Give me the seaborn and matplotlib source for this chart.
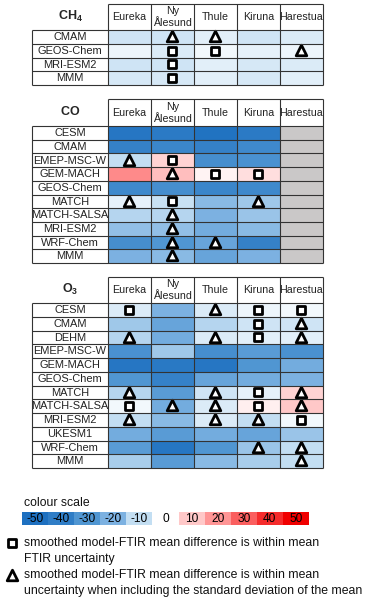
import numpy as np
import pandas as pd
import matplotlib
matplotlib.use("Agg")
import matplotlib.pyplot as plt
from matplotlib.colors import LinearSegmentedColormap
import seaborn as sns

# sites (columns) shared by all three panels
sites = ["Eureka", "Ny\nÅlesund", "Thule", "Kiruna", "Harestua"]

# CH4 mean differences (%) and markers: s = within FTIR uncertainty, t = within uncertainty incl. std
ch4_models = ["CMAM", "GEOS-Chem", "MRI-ESM2", "MMM"]
ch4_values = [[-8, -8, -5, -8, -6],
              [-3, -6, -2, -4, -3],
              [-8, -8, -5, -7, -6],
              [-7, -7, -5, -7, -5]]
ch4_marks = [["", "t", "t", "", ""],
             ["", "s", "s", "", "t"],
             ["", "s", "", "", ""],
             ["", "s", "", "", ""]]

co_models = ["CESM", "CMAM", "EMEP-MSC-W", "GEM-MACH", "GEOS-Chem", "MATCH",
             "MATCH-SALSA", "MRI-ESM2", "WRF-Chem", "MMM"]
co_values = [[-45, -42, -48, -42, np.nan],
             [-38, -36, -38, -35, np.nan],
             [-10, 8, -33, -32, np.nan],
             [22, 12, 2, 6, np.nan],
             [-35, -33, -36, -35, np.nan],
             [-4, -9, -18, -15, np.nan],
             [-12, -12, -20, -16, np.nan],
             [-17, -17, -22, -18, np.nan],
             [-33, -30, -25, -38, np.nan],
             [-20, -18, -25, -20, np.nan]]
co_marks = [["", "", "", "", ""],
            ["", "", "", "", ""],
            ["t", "s", "", "", ""],
            ["", "t", "s", "s", ""],
            ["", "", "", "", ""],
            ["t", "s", "", "t", ""],
            ["", "t", "", "", ""],
            ["", "t", "", "", ""],
            ["", "t", "t", "", ""],
            ["", "t", "", "", ""]]

o3_models = ["CESM", "CMAM", "DEHM", "EMEP-MSC-W", "GEM-MACH", "GEOS-Chem", "MATCH",
             "MATCH-SALSA", "MRI-ESM2", "UKESM1", "WRF-Chem", "MMM"]
o3_values = [[-6, -20, -6, -3, -2],
             [-15, -25, -12, -8, -8],
             [-12, -22, -6, -5, -5],
             [-32, -15, -33, -28, -32],
             [-45, -43, -45, -30, -22],
             [-30, -38, -25, -22, -20],
             [-12, -28, -8, -4, 8],
             [-2, -22, -6, 3, 10],
             [-10, -18, -6, -10, -2],
             [-22, -28, -22, -25, -16],
             [-28, -45, -30, -16, -10],
             [-14, -28, -18, -14, -10]]
o3_marks = [["s", "", "t", "s", "s"],
            ["", "", "", "s", "t"],
            ["t", "", "t", "s", "t"],
            ["", "", "", "", ""],
            ["", "", "", "", ""],
            ["", "", "", "", ""],
            ["t", "", "t", "s", "t"],
            ["s", "t", "t", "s", "t"],
            ["t", "", "t", "t", "s"],
            ["", "", "", "", ""],
            ["", "", "", "t", "t"],
            ["", "", "", "", "t"]]

scale_values = [-50, -40, -30, -20, -10, 0, 10, 20, 30, 40, 50]
scale_colours = ["#1e70c0", "#2f7dc6", "#5096d2", "#7db2e1", "#c3def2", "#ffffff",
                 "#ffc8c8", "#ff9696", "#fa5f5f", "#f52d2d", "#f00000"]

sns.set_theme(style="white")
plt.rcParams["font.family"] = ["Liberation Sans", "DejaVu Sans"]
plt.rcParams["mathtext.fontset"] = "custom"
plt.rcParams["mathtext.rm"] = "Liberation Sans"
plt.rcParams["mathtext.bf"] = "Liberation Sans:bold"

cmap = LinearSegmentedColormap.from_list(
    "diff", [((v + 50) / 100, c) for v, c in zip(scale_values, scale_colours)])
cmap.set_bad("#cac8c8")

W, H = 365, 600
fig = plt.figure(figsize=(W / 100, H / 100), dpi=100)
line_col = "#333333"


def px_axes(x0, y0, x1, y1):
    return fig.add_axes([x0 / W, 1 - y1 / H, (x1 - x0) / W, (y1 - y0) / H])


def draw_panel(title, models, values, marks, htop, dtop, bottom):
    n = len(models)
    ax = px_axes(32, htop, 323, bottom)
    row_h = (bottom - dtop) / n
    hdr = (dtop - htop) / row_h
    lab = 291 / 43 - 5

    df = pd.DataFrame(values, index=models, columns=sites)
    sns.heatmap(df, ax=ax, cmap=cmap, vmin=-50, vmax=50, cbar=False,
                xticklabels=False, yticklabels=False)

    for i in range(n):
        for j in range(len(sites)):
            m = marks[i][j]
            if m == "s":
                ax.scatter(j + 0.5, i + 0.5, marker="s", s=38, facecolor="white",
                           edgecolor="black", linewidth=2.0, zorder=5)
            elif m == "t":
                ax.scatter(j + 0.5, i + 0.45, marker="^", s=58, facecolor="white",
                           edgecolor="black", linewidth=2.0, zorder=5)

    # grid of the table
    kw = dict(color=line_col, lw=0.8, zorder=6, clip_on=False)
    ax.hlines(range(n + 1), -lab, 5, **kw)
    ax.hlines(-hdr, 0, 5, **kw)
    ax.vlines(range(6), -hdr, n, **kw)
    ax.vlines(-lab, 0, n, **kw)

    for i, name in enumerate(models):
        ax.text(-lab / 2, i + 0.52, name, ha="center", va="center", fontsize=7.9,
                color="#222222")
    for j, s in enumerate(sites):
        ax.text(j + 0.5, -hdr / 2, s, ha="center", va="center", fontsize=7.7,
                linespacing=1.25, color="#222222")
    ax.text(-lab / 2, -hdr * 0.52, title, ha="center", va="center", fontsize=9)

    ax.set_xlim(-lab, 5)
    ax.set_ylim(n, -hdr)
    ax.axis("off")
    return ax


draw_panel(r"$\mathbf{CH_4}$", ch4_models, ch4_values, ch4_marks, 4, 30, 85)
draw_panel(r"$\mathbf{CO}$", co_models, co_values, co_marks, 99, 126, 263)
draw_panel(r"$\mathbf{O_3}$", o3_models, o3_values, o3_marks, 277, 303, 468)

# colour scale strip
cax = px_axes(22, 512, 309, 525)
sns.heatmap(np.array([scale_values]), ax=cax, cmap=cmap, vmin=-50, vmax=50,
            cbar=False, annot=True, fmt="d", xticklabels=False, yticklabels=False,
            annot_kws={"color": "black", "fontsize": 8.6})
cax.axis("off")

# overlay in pixel coordinates for the legend texts
ov = fig.add_axes([0, 0, 1, 1], facecolor="none")
ov.set_xlim(0, W)
ov.set_ylim(H, 0)
ov.axis("off")
ov.text(24, 503, "colour scale", fontsize=8.8, va="center", color="#111111")
ov.scatter(12, 543, marker="s", s=38, facecolor="white", edgecolor="black", linewidth=2.0)
ov.scatter(12, 575, marker="^", s=58, facecolor="white", edgecolor="black", linewidth=2.0)
legend_lines = [(543, "smoothed model-FTIR mean difference is within mean"),
                (559, "FTIR uncertainty"),
                (575, "smoothed model-FTIR mean difference is within mean"),
                (591, "uncertainty when including the standard deviation of the mean")]
for y, txt in legend_lines:
    ov.text(24, y, txt, fontsize=8.8, va="center", color="#111111")

fig.savefig("out.png", dpi=100)
